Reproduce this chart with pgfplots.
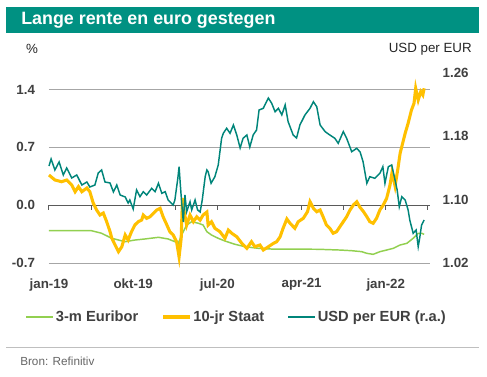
\documentclass[border=0pt]{standalone}
\usepackage{fontspec}
\setmainfont{Liberation Sans}
\usepackage{pgfplots}
\pgfplotsset{compat=1.18}
\definecolor{titlebar}{HTML}{009182}
\definecolor{tealline}{HTML}{00857A}
\definecolor{yel}{HTML}{FFC000}
\definecolor{grn}{HTML}{92D050}
\definecolor{txt}{HTML}{404040}
\definecolor{gridc}{HTML}{A6A6A6}
\definecolor{zeroc}{HTML}{5A5A5A}
\begin{document}
\begin{tikzpicture}[x=0.75pt,y=0.75pt]
\useasboundingbox (0,0) rectangle (487,376);
\fill[white] (0,0) rectangle (487,376);
\fill[titlebar] (6,343) rectangle (479,369);
\node[anchor=west, text=white, inner sep=0pt, font=\bfseries\fontsize{13.4}{16}\selectfont] at (21,356) {Lange rente en euro gestegen};
\node[anchor=center, inner sep=0pt, text=black!85, font=\fontsize{10}{12}\selectfont] at (32,327) {\%};
\node[anchor=east, inner sep=0pt, text=black!85, font=\fontsize{10}{12}\selectfont] at (472,327) {USD per EUR};
\draw[black!25, line width=0.75pt] (6,29) -- (479,29);
\node[anchor=west, inner sep=0pt, text=black!60, font=\fontsize{8.8}{10}\selectfont] at (20,15) {Bron: Refinitiv};

\begin{axis}[
  at={(36.75pt,84.75pt)}, anchor=south west,
  scale only axis, width=285.75pt, height=142.5pt,
  xmin=0, xmax=905, ymin=-0.7, ymax=1.6,
  axis line style={draw=none},
  tick style={draw=none},
  xtick={0,200,400,600,800},
  xticklabels={jan-19,okt-19,jul-20,apr-21,jan-22},
  ytick={-0.7,0.7,1.4},
  yticklabels={-0.7,0.7,1.4},
  extra y ticks={0},
  extra y tick labels={0.0},
  extra y tick style={grid style={zeroc, line width=0.9pt}},
  ymajorgrids,
  grid style={gridc, line width=0.75pt},
  ticklabel style={font=\bfseries\fontsize{10}{12}\selectfont, text=txt},
  yticklabel style={xshift=-7pt},
  xticklabel style={yshift=-8pt},
  clip=false,
]
\pgfplotsinvokeforeach{0,100,200,300,400,500,600,700,800,900}{
  \draw[zeroc, line width=0.75pt] (axis cs:#1,0) -- ++(0pt,-3.5pt);
}
\addplot[grn, line width=1.1pt] table {
0 -0.307
50 -0.307
101 -0.309
125 -0.340
149 -0.401
181 -0.442
204 -0.422
228 -0.409
260 -0.389
283 -0.409
299 -0.442
307 -0.462
315 -0.361
327 -0.240
339 -0.200
355 -0.219
366 -0.240
375 -0.321
386 -0.361
402 -0.401
418 -0.434
442 -0.474
466 -0.503
497 -0.522
529 -0.531
572 -0.531
640 -0.534
691 -0.543
719 -0.551
743 -0.563
755 -0.583
770 -0.595
786 -0.563
802 -0.543
818 -0.522
834 -0.482
850 -0.462
865 -0.401
877 -0.340
885 -0.340
891 -0.353
};
\addplot[yel, line width=2.3pt] table {
0 0.365
14 0.305
30 0.284
42 0.305
54 0.244
62 0.163
70 0.224
78 0.163
90 0.208
97 0.163
105 0.026
113 -0.058
121 -0.119
129 -0.095
137 -0.200
145 -0.321
149 -0.397
157 -0.482
165 -0.563
173 -0.503
181 -0.361
188 -0.422
196 -0.321
204 -0.240
212 -0.200
220 -0.180
224 -0.119
232 -0.159
240 -0.140
248 -0.098
256 -0.058
264 -0.038
271 -0.140
280 -0.240
287 -0.321
295 -0.361
303 -0.442
309 -0.627
314 -0.401
317 0.087
321 -0.079
327 -0.240
335 -0.119
343 -0.200
351 -0.140
359 -0.180
366 -0.119
375 -0.083
378 -0.240
386 -0.200
394 -0.280
406 -0.321
418 -0.401
426 -0.301
434 -0.340
446 -0.382
458 -0.462
470 -0.522
481 -0.442
489 -0.503
501 -0.482
509 -0.543
521 -0.503
533 -0.462
541 -0.442
549 -0.382
556 -0.280
565 -0.167
572 -0.216
584 -0.280
592 -0.200
604 -0.159
614 -0.079
620 0.042
628 -0.038
636 -0.079
644 -0.058
651 -0.140
659 -0.240
667 -0.280
675 -0.340
683 -0.321
691 -0.261
699 -0.200
707 -0.140
715 -0.058
723 0.002
731 0.042
739 -0.028
746 -0.071
755 -0.140
762 -0.200
770 -0.219
778 -0.159
786 -0.058
794 0.002
802 0.083
810 0.244
815 0.402
822 0.232
829 0.450
834 0.628
840 0.749
846 0.870
853 0.991
861 1.152
867 1.233
871 1.415
877 1.273
883 1.374
888 1.334
891 1.415
};
\end{axis}

\begin{axis}[
  at={(36.75pt,84.75pt)}, anchor=south west,
  scale only axis, width=285.75pt, height=142.5pt,
  xmin=0, xmax=905, ymin=1.02, ymax=1.26,
  axis x line=none,
  axis y line*=right,
  axis line style={draw=none},
  tick style={draw=none},
  ytick={1.02,1.10,1.18,1.26},
  yticklabels={1.02,1.10,1.18,1.26},
  ticklabel style={font=\bfseries\fontsize{10}{12}\selectfont, text=txt},
  yticklabel style={xshift=6pt},
  clip=false,
  legend columns=3,
  legend style={at={(0.492,-0.284)}, anchor=center, draw=none, fill=none,
    font=\bfseries\fontsize{11}{13}\selectfont, text=txt,
    /tikz/every even column/.append style={column sep=16pt},
    nodes={inner xsep=1.5pt}},
  legend image code/.code={\draw[#1] (0pt,0pt) -- (20pt,0pt);},
]
\addlegendimage{grn, line width=1.6pt}
\addlegendentry{3-m Euribor}
\addlegendimage{yel, line width=2.4pt}
\addlegendentry{10-jr Staat}
\addplot[tealline, line width=1.1pt] table {
0 1.1425
5 1.1514
14 1.1375
24 1.1476
34 1.1312
42 1.1400
54 1.1274
66 1.1312
78 1.1185
90 1.1223
97 1.1160
109 1.1185
117 1.1337
125 1.1375
133 1.1223
145 1.1211
153 1.1097
161 1.1185
169 1.1059
181 1.1034
188 1.0958
192 1.0996
200 1.0882
208 1.1122
216 1.1038
224 1.1101
232 1.1059
244 1.1144
252 1.1101
260 1.1207
268 1.1080
276 1.1101
283 1.0996
295 1.0933
299 1.0996
306 1.1270
309 1.1416
312 1.1185
315 1.0974
319 1.0718
323 1.1059
327 1.0848
335 1.0974
339 1.0870
347 1.0996
353 1.0870
359 1.0844
364 1.0996
371 1.1290
375 1.1375
378 1.1353
385 1.1207
394 1.1290
402 1.1438
406 1.1606
410 1.1775
414 1.1838
422 1.1902
430 1.1838
438 1.1943
446 1.1817
454 1.1653
461 1.1775
470 1.1817
477 1.1665
485 1.1817
493 1.1880
499 1.2133
509 1.2154
521 1.2284
529 1.2217
537 1.2111
545 1.2154
553 1.2070
561 1.2196
568 1.1985
580 1.1817
588 1.1779
596 1.1943
608 1.2070
620 1.2154
628 1.2238
636 1.2174
644 1.1943
656 1.1859
667 1.1817
679 1.1775
687 1.1712
699 1.1859
707 1.1775
719 1.1606
731 1.1649
739 1.1602
746 1.1480
755 1.1207
762 1.1290
774 1.1270
786 1.1333
793 1.1416
798 1.1207
806 1.1416
814 1.1438
822 1.1248
827 1.1122
832 1.0911
838 1.1038
846 1.0996
853 1.0870
857 1.0743
865 1.0575
872 1.0617
877 1.0406
881 1.0532
885 1.0680
891 1.0743
};
\addlegendentry{USD per EUR (r.a.)}
\end{axis}
\end{tikzpicture}
\end{document}
